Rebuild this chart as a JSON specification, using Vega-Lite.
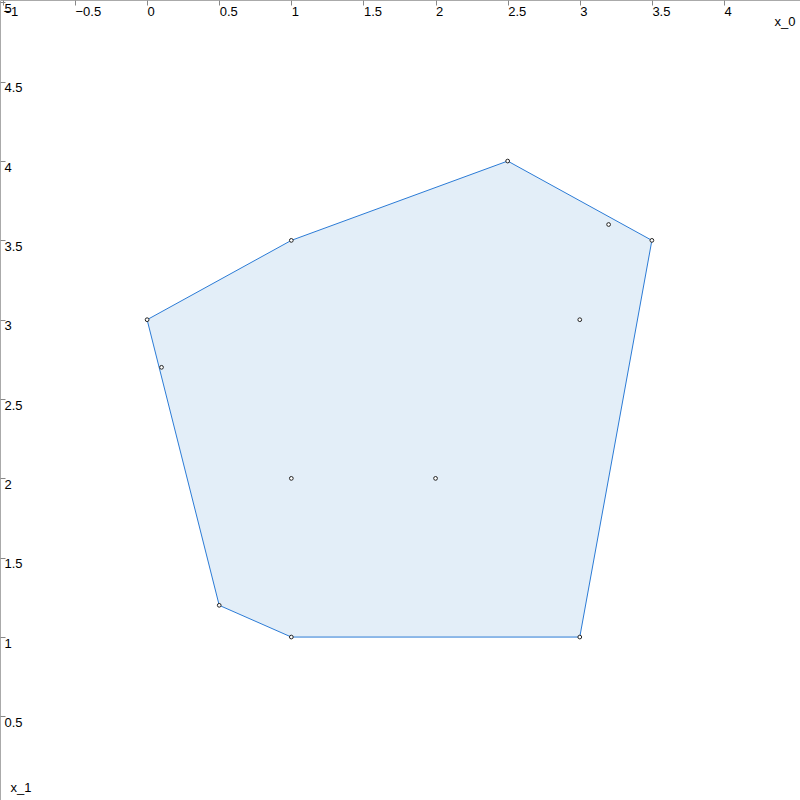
{
  "$schema": "https://vega.github.io/schema/vega-lite/v6.json",
  "width": 800,
  "height": 800,
  "autosize": "none",
  "padding": 0,
  "background": "white",
  "config": {
    "view": {"stroke": "#aaaaaa", "strokeWidth": 1},
    "font": "Liberation Sans",
    "axis": {"labelFont": "Liberation Sans", "titleFont": "Liberation Sans"}
  },
  "datasets": {
    "pts": [
      {"x_0": 0, "x_1": 3},
      {"x_0": 1, "x_1": 3.5},
      {"x_0": 2.5, "x_1": 4},
      {"x_0": 3.2, "x_1": 3.6},
      {"x_0": 3.5, "x_1": 3.5},
      {"x_0": 3, "x_1": 3},
      {"x_0": 0.1, "x_1": 2.7},
      {"x_0": 1, "x_1": 2},
      {"x_0": 2, "x_1": 2},
      {"x_0": 0.5, "x_1": 1.2},
      {"x_0": 1, "x_1": 1},
      {"x_0": 3, "x_1": 1}
    ],
    "hull": [
      {"x_0": 0, "x_1": 3, "k": 0},
      {"x_0": 1, "x_1": 3.5, "k": 1},
      {"x_0": 2.5, "x_1": 4, "k": 2},
      {"x_0": 3.5, "x_1": 3.5, "k": 3},
      {"x_0": 3, "x_1": 1, "k": 4},
      {"x_0": 1, "x_1": 1, "k": 5},
      {"x_0": 0.5, "x_1": 1.2, "k": 6},
      {"x_0": 0, "x_1": 3, "k": 7}
    ]
  },
  "layer": [
    {
      "data": {"name": "hull"},
      "mark": {"type": "line", "fill": "#e3eef8", "stroke": "#2b7bd6", "strokeWidth": 1},
      "encoding": {
        "x": {
          "field": "x_0", "type": "quantitative",
          "scale": {"domain": [-1.02, 4.527], "nice": false, "zero": false},
          "axis": {
            "orient": "top", "grid": false, "domain": false, "format": "~g",
            "values": [-1, -0.5, 0, 0.5, 1, 1.5, 2, 2.5, 3, 3.5, 4],
            "tickSize": -5, "tickColor": "#888888", "tickWidth": 1,
            "labelPadding": 0, "labelAlign": "left", "labelBaseline": "top", "labelDx": 3, "labelDy": 1,
            "labelFontSize": 13, "labelColor": "black", "labelOverlap": false, "labelFlush": false,
            "title": "x_0", "titleX": 795, "titleY": 25, "titleAlign": "right",
            "titleBaseline": "alphabetic", "titleFontWeight": "normal", "titleFontSize": 13, "titleColor": "black"
          }
        },
        "y": {
          "field": "x_1", "type": "quantitative",
          "scale": {"domain": [-0.027, 5.015], "nice": false, "zero": false},
          "axis": {
            "orient": "left", "grid": false, "domain": false, "format": "~g",
            "values": [0.5, 1, 1.5, 2, 2.5, 3, 3.5, 4, 4.5, 5],
            "tickSize": -5, "tickColor": "#888888", "tickWidth": 1,
            "labelPadding": 1, "labelAlign": "left", "labelBaseline": "top", "labelDy": 3,
            "labelFontSize": 13, "labelColor": "black", "labelOverlap": false, "labelFlush": false,
            "title": "x_1", "titleAngle": 0, "titleX": 10, "titleY": 791, "titleAlign": "left",
            "titleBaseline": "alphabetic", "titleFontWeight": "normal", "titleFontSize": 13, "titleColor": "black"
          }
        },
        "order": {"field": "k", "type": "quantitative"}
      }
    },
    {
      "data": {"name": "pts"},
      "mark": {"type": "point", "shape": "circle", "size": 14, "filled": false, "fill": "white", "fillOpacity": 1, "stroke": "#222222", "strokeWidth": 1, "opacity": 1},
      "encoding": {
        "x": {"field": "x_0", "type": "quantitative"},
        "y": {"field": "x_1", "type": "quantitative"}
      }
    }
  ]
}
